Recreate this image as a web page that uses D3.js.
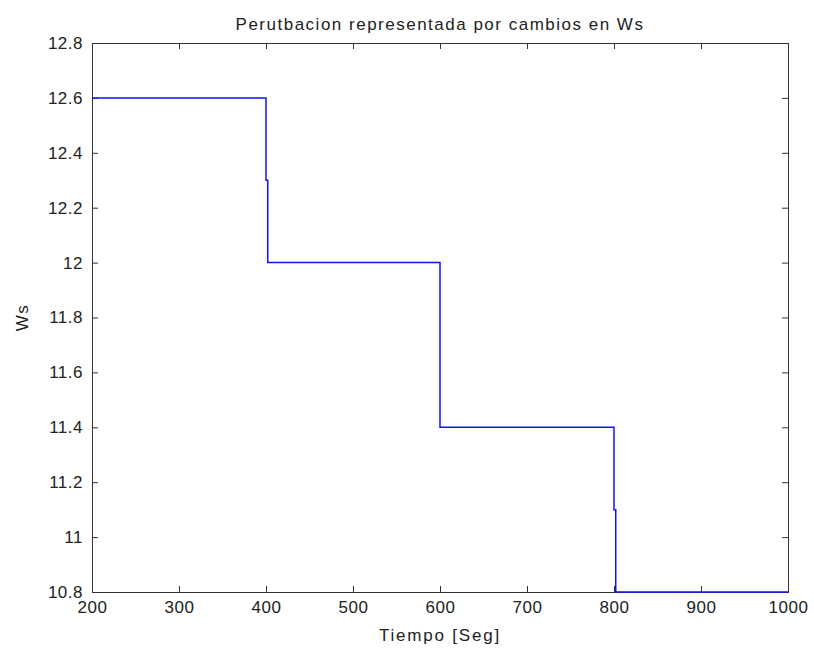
<!DOCTYPE html>
<html>
<head>
<meta charset="utf-8">
<script src="https://cdn.jsdelivr.net/npm/d3@7"></script>
<style>
  body { margin: 0; background: #fff; }
  text { font-family: "Liberation Sans", Arial, sans-serif; fill: #222; }
</style>
</head>
<body>
<div id="chart"></div>
<script>
// step signal
const tiempo = [200, 400, 400, 402, 402, 600, 600, 800, 800, 802, 802, 1000];
const ws     = [12.6, 12.6, 12.3, 12.3, 12.0, 12.0, 11.4, 11.4, 11.1, 11.1, 10.8, 10.8];
const xTicks = [200, 300, 400, 500, 600, 700, 800, 900, 1000];
const yTicks = [10.8, 11, 11.2, 11.4, 11.6, 11.8, 12, 12.2, 12.4, 12.6, 12.8];

const width = 814, height = 652;
const margin = {left: 92, right: 26, top: 43, bottom: 60};
const w = width - margin.left - margin.right;
const h = height - margin.top - margin.bottom;

var svg = d3.select("#chart").append("svg")
    .attr("width", width)
    .attr("height", height);

var g = svg.append("g").attr("transform", "translate(" + margin.left + "," + margin.top + ")");

var x = d3.scaleLinear().domain([200, 1000]).range([0, w]);
var y = d3.scaleLinear().domain([10.8, 12.8]).range([h, 0]);

var fmt = d3.format("~g");

// axes with inward ticks, box on all sides
g.append("g").attr("transform", "translate(0," + h + ")")
  .call(d3.axisBottom(x).tickValues(xTicks).tickSize(-6).tickPadding(9).tickFormat(fmt));
g.append("g").call(d3.axisTop(x).tickValues(xTicks).tickSize(-6).tickFormat(""));
g.append("g").call(d3.axisLeft(y).tickValues(yTicks).tickSize(-6).tickPadding(9).tickFormat(fmt));
g.append("g").attr("transform", "translate(" + w + ",0)")
  .call(d3.axisRight(y).tickValues(yTicks).tickSize(-6).tickFormat(""));

g.selectAll(".domain").attr("stroke", "#333");
g.selectAll(".tick line").attr("stroke", "#333");
g.selectAll(".tick text").style("font-size", "17px").style("letter-spacing", "0.5px").attr("fill", "#222");

// the line
var line = d3.line()
  .x(function(d, i) { return x(tiempo[i]); })
  .y(function(d) { return y(d); });

g.append("path")
  .datum(ws)
  .attr("fill", "none")
  .attr("stroke", "#1010ff")
  .attr("stroke-width", 1.5)
  .attr("d", line);

// labels
svg.append("text")
  .attr("x", margin.left + w / 2).attr("y", 30)
  .attr("text-anchor", "middle").style("font-size", "17px").style("letter-spacing", "1.5px")
  .text("Perutbacion representada por cambios en Ws");

svg.append("text")
  .attr("x", margin.left + w / 2).attr("y", 641)
  .attr("text-anchor", "middle").style("font-size", "17px").style("letter-spacing", "1.8px")
  .text("Tiempo [Seg]");

svg.append("text")
  .attr("transform", "translate(28," + (margin.top + h / 2) + ") rotate(-90)")
  .attr("text-anchor", "middle").style("font-size", "17px").style("letter-spacing", "1.5px")
  .text("Ws");
</script>
</body>
</html>
